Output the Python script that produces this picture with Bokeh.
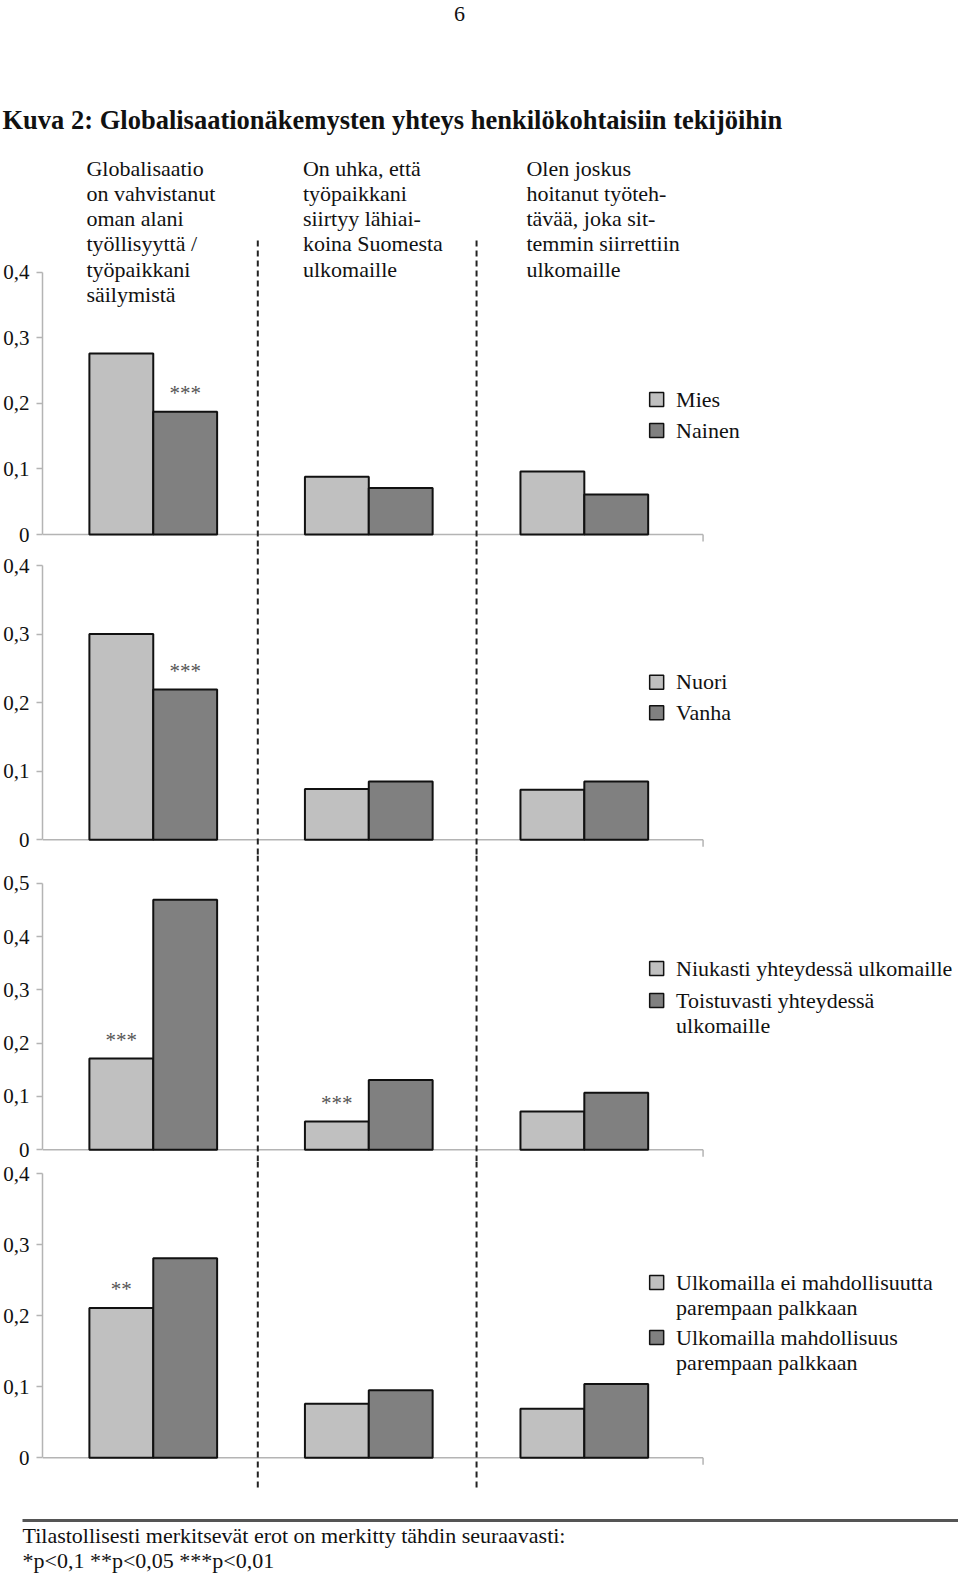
from bokeh.plotting import figure
from bokeh.models import Range1d, FixedTicker, CustomJSTickFormatter, ColumnDataSource
from bokeh.layouts import column
from bokeh.transform import dodge
from bokeh.core.properties import value
from bokeh.embed import file_html
from bokeh.resources import INLINE

# ---------------- data ----------------
page_number = "6"
title = "Kuva 2: Globalisaationäkemysten yhteys henkilökohtaisiin tekijöihin"
questions = [
    "Globalisaatio\non vahvistanut\noman alani\ntyöllisyyttä /\ntyöpaikkani\nsäilymistä",
    "On uhka, että\ntyöpaikkani\nsiirtyy lähiai-\nkoina Suomesta\nulkomaille",
    "Olen joskus\nhoitanut työteh-\ntävää, joka sit-\ntemmin siirrettiin\nulkomaille",
]
group_index = [0, 1, 2]

p1_labels = ["Mies", "Nainen"]
p1_a = [0.276, 0.088, 0.096]
p1_b = [0.187, 0.071, 0.061]
p1_stars_a = ["", "", ""]
p1_stars_b = ["***", "", ""]
p1_ticks = [0, 0.1, 0.2, 0.3, 0.4]

p2_labels = ["Nuori", "Vanha"]
p2_a = [0.300, 0.074, 0.073]
p2_b = [0.219, 0.085, 0.085]
p2_stars_a = ["", "", ""]
p2_stars_b = ["***", "", ""]
p2_ticks = [0, 0.1, 0.2, 0.3, 0.4]

p3_labels = ["Niukasti yhteydessä ulkomaille", "Toistuvasti yhteydessä\nulkomaille"]
p3_a = [0.171, 0.053, 0.072]
p3_b = [0.469, 0.131, 0.107]
p3_stars_a = ["***", "***", ""]
p3_stars_b = ["", "", ""]
p3_ticks = [0, 0.1, 0.2, 0.3, 0.4, 0.5]

p4_labels = ["Ulkomailla ei mahdollisuutta\nparempaan palkkaan", "Ulkomailla mahdollisuus\nparempaan palkkaan"]
p4_a = [0.211, 0.076, 0.069]
p4_b = [0.281, 0.095, 0.104]
p4_stars_a = ["**", "", ""]
p4_stars_b = ["", "", ""]
p4_ticks = [0, 0.1, 0.2, 0.3, 0.4]

footnote = ["Tilastollisesti merkitsevät erot on merkitty tähdin seuraavasti:",
            "*p<0,1 **p<0,05 ***p<0,01"]

# ---------------- styles / layout ----------------
FONT = value("Liberation Serif")
LIGHT = "#c0c0c0"
DARK = "#808080"
AXIS = "#b4b4b4"
INK = "#111111"
W = 958
X0, XS = 151.0, 216.0          # pixel of group 0 centre, pixels per group
BAR_W = 64 / XS
SEPARATORS = [0.485, 1.5]      # dashed lines between the question groups


def xd(px):
    return (px - X0) / XS


panels = [
    dict(a=p1_a, b=p1_b, sa=p1_stars_a, sb=p1_stars_b, labels=p1_labels, ticks=p1_ticks,
         top=150, bottom=548, zero=534.0, top_px=271.7, leg=[399, 430], dash=(240, None), headers=True),
    dict(a=p2_a, b=p2_b, sa=p2_stars_a, sb=p2_stars_b, labels=p2_labels, ticks=p2_ticks,
         top=548, bottom=855, zero=839.3, top_px=565.0, leg=[681.7, 712.3], dash=(None, None), headers=False),
    dict(a=p3_a, b=p3_b, sa=p3_stars_a, sb=p3_stars_b, labels=p3_labels, ticks=p3_ticks,
         top=855, bottom=1161, zero=1149.3, top_px=882.7, leg=[968, 1000], dash=(None, None), headers=False),
    dict(a=p4_a, b=p4_b, sa=p4_stars_a, sb=p4_stars_b, labels=p4_labels, ticks=p4_ticks,
         top=1161, bottom=1495, zero=1457.3, top_px=1173.3, leg=[1282, 1337], dash=(None, 1489), headers=False),
]

fmt = CustomJSTickFormatter(code="return tick == 0 ? '0' : tick.toFixed(1).replace('.', ',');")


def make_panel(cfg):
    top_val = cfg["ticks"][-1]
    scale = (cfg["zero"] - cfg["top_px"]) / top_val

    def v(py):
        return (cfg["zero"] - py) / scale

    p = figure(width=W, height=cfg["bottom"] - cfg["top"],
               x_range=Range1d(xd(40), xd(W)), y_range=Range1d(v(cfg["bottom"]), v(cfg["top"])),
               output_backend="svg", toolbar_location=None, x_axis_location=None,
               min_border_left=40, min_border_right=0, min_border_top=0, min_border_bottom=0,
               outline_line_color=None, background_fill_color="white", border_fill_color="white",
               frame_align=False)
    p.grid.grid_line_color = None
    ax = p.yaxis[0]
    ax.bounds = (0, top_val)
    ax.ticker = FixedTicker(ticks=cfg["ticks"])
    ax.formatter = fmt
    ax.axis_line_color = AXIS
    ax.axis_line_width = 1.5
    ax.major_tick_line_color = AXIS
    ax.major_tick_line_width = 1.5
    ax.major_tick_out = 6
    ax.major_tick_in = 0
    ax.minor_tick_line_color = None
    ax.major_label_text_font = "Liberation Serif"
    ax.major_label_text_font_size = "21px"
    ax.major_label_text_color = INK
    ax.major_label_standoff = 7

    src = ColumnDataSource(dict(x=group_index, a=cfg["a"], b=cfg["b"], sa=cfg["sa"], sb=cfg["sb"]))

    # baseline + end tick
    p.segment(x0=xd(40), y0=0, x1=xd(702), y1=0, line_color=AXIS, line_width=1.5)
    p.segment(x0=xd(702), y0=0, x1=xd(702), y1=v(cfg["zero"] + 7), line_color=AXIS, line_width=1.5)

    # dashed separators between the questions
    d0 = v(cfg["dash"][0]) if cfg["dash"][0] else v(cfg["top"])
    d1 = v(cfg["dash"][1]) if cfg["dash"][1] else v(cfg["bottom"])
    p.segment(x0=SEPARATORS, y0=[d0, d0], x1=SEPARATORS, y1=[d1, d1],
              line_color="#222222", line_width=2, line_dash="6 4")

    p.vbar(x=dodge("x", -BAR_W / 2, range=p.x_range), top="a", width=BAR_W, source=src,
           fill_color=LIGHT, line_color=INK, line_width=2)
    p.vbar(x=dodge("x", BAR_W / 2, range=p.x_range), top="b", width=BAR_W, source=src,
           fill_color=DARK, line_color=INK, line_width=2)

    for col, sign in (("a", -1), ("b", 1)):
        p.text(x=dodge("x", sign * BAR_W / 2, range=p.x_range), y=col, text="s" + col, source=src,
               text_align="center", text_baseline="alphabetic", y_offset=-19,
               text_font=FONT, text_font_size="21px", text_color="#555555")

    # legend
    ly = [v(y) for y in cfg["leg"]]
    p.scatter(x=[xd(655.5)] * 2, y=ly, marker="square", size=14,
              fill_color=[LIGHT, DARK], line_color=INK, line_width=1.5)
    p.text(x=[xd(675)] * 2, y=[v(y - 13) for y in cfg["leg"]], text=cfg["labels"],
           text_align="left", text_baseline="top", text_line_height=1.01,
           text_font=FONT, text_font_size="22px", text_color=INK)

    if cfg["headers"]:
        p.text(x=[xd(84), xd(301), xd(525)], y=[v(155)] * 3, text=questions,
               text_align="left", text_baseline="top", text_line_height=1.01,
               text_font=FONT, text_font_size="22px", text_color=INK)
    return p


def plain(height, y_top, y_bottom):
    p = figure(width=W, height=height, x_range=Range1d(0, W), y_range=Range1d(y_bottom, y_top),
               output_backend="svg", toolbar_location=None, x_axis_location=None, y_axis_location=None,
               min_border=0, min_border_left=0, min_border_right=0, min_border_top=0,
               min_border_bottom=0, outline_line_color=None, background_fill_color="white",
               border_fill_color="white", frame_align=False)
    p.grid.grid_line_color = None
    return p


header = plain(150, 0, 150)
header.text(x=[459], y=[13], text=[page_number], text_align="center", text_baseline="middle",
            text_font=FONT, text_font_size="22px", text_color=INK)
header.text(x=[2], y=[119], text=[title], text_align="left", text_baseline="middle",
            text_font=FONT, text_font_size="26.5px", text_font_style="bold", text_color=INK)

footer = plain(80, 1495, 1575)
footer.segment(x0=22, y0=1520, x1=W, y1=1520, line_color="#555555", line_width=3)
footer.text(x=[22, 22], y=[1535, 1560], text=footnote, text_align="left", text_baseline="middle",
            text_font=FONT, text_font_size="22px", text_color=INK)

figs = [header] + [make_panel(c) for c in panels] + [footer]
layout = column(*figs, spacing=0)

open("out.html", "w").write(file_html(layout, INLINE))
